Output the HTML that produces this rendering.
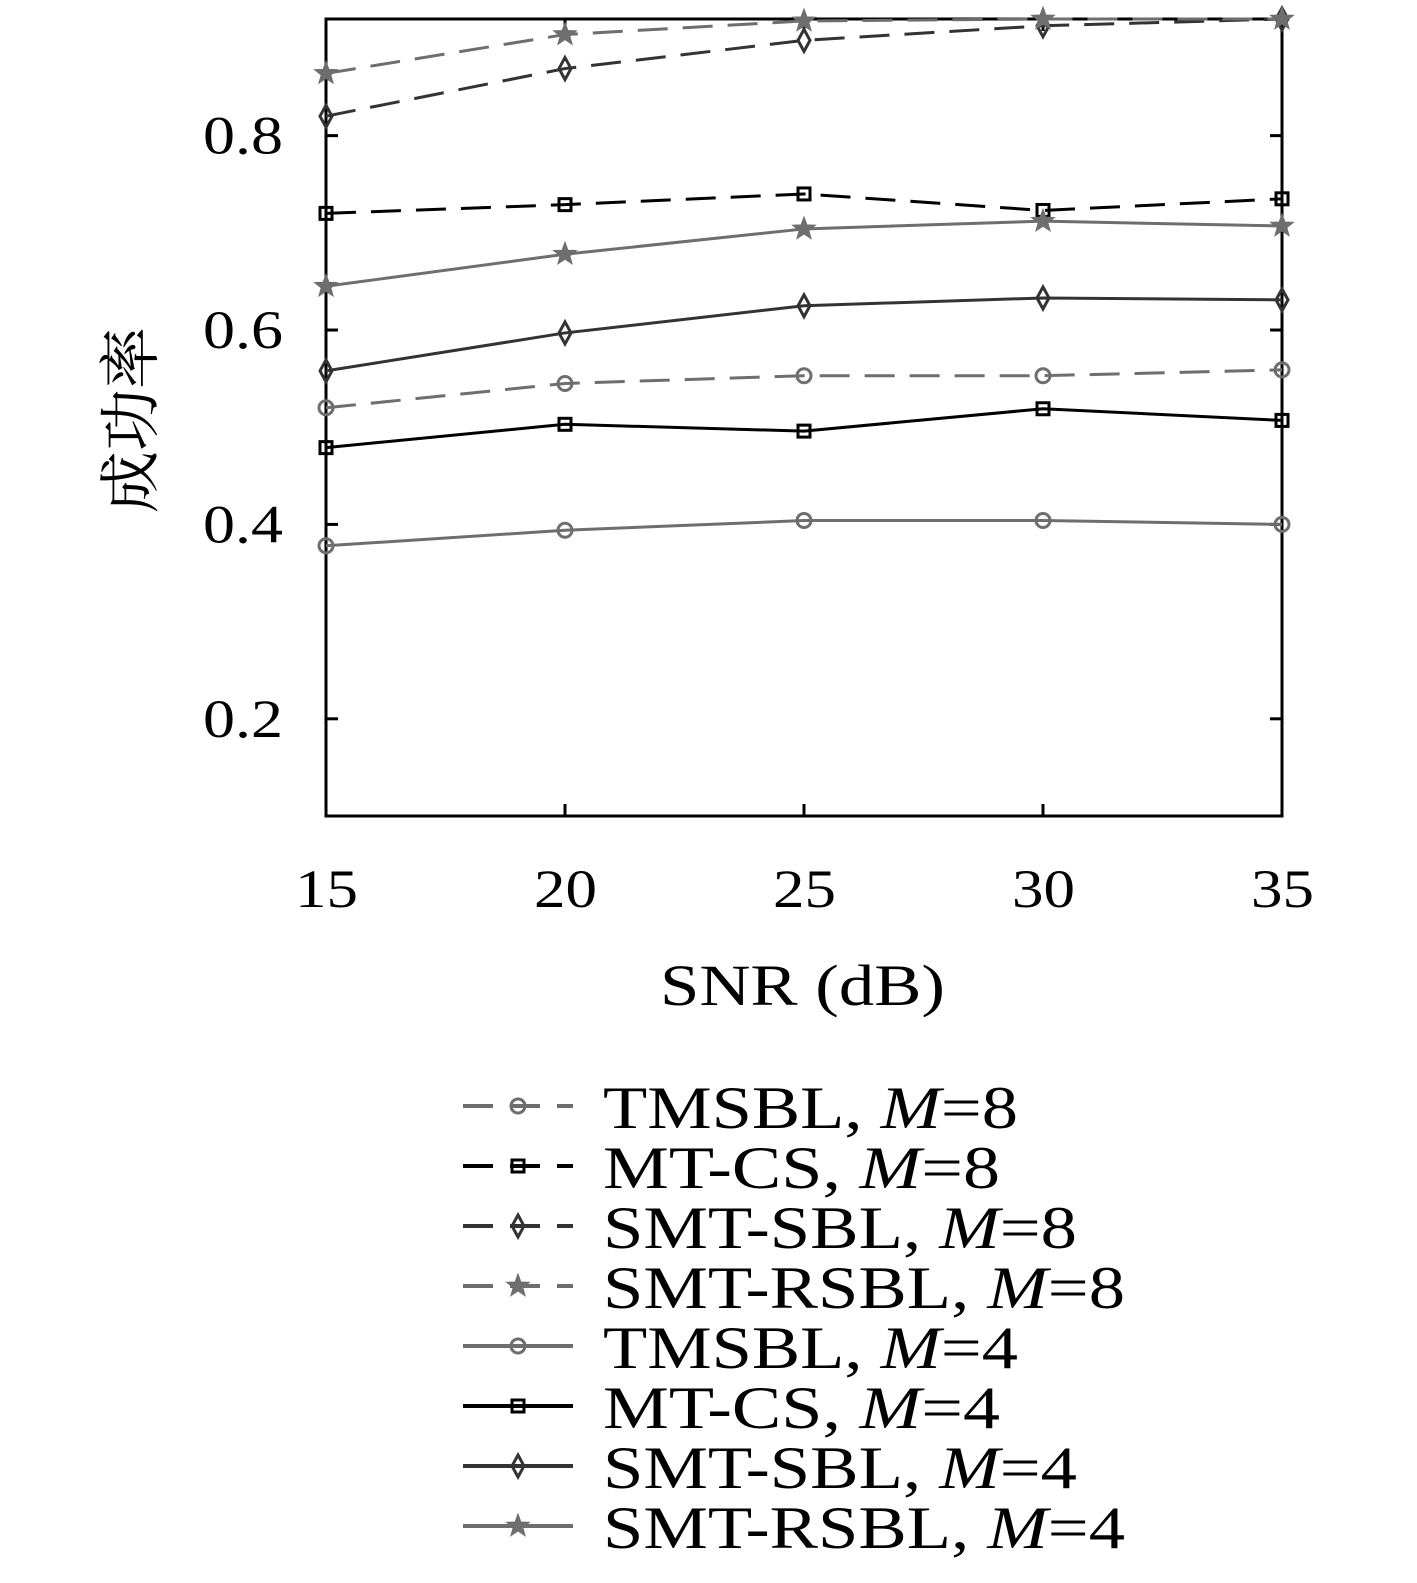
<!DOCTYPE html>
<html><head><meta charset="utf-8"><style>
body{margin:0;background:#fff}
svg{display:block}
text{font-family:"Liberation Serif","Noto Serif CJK SC",serif}
</style></head><body>
<svg id="chart" width="1417" height="1583" viewBox="0 0 1417 1583" xmlns="http://www.w3.org/2000/svg"></svg>
<script>
const snr = [15, 20, 25, 30, 35];
const xTicks = [15, 20, 25, 30, 35];
const yTicks = [0.2, 0.4, 0.6, 0.8];
const tmsbl8 = [0.52, 0.545, 0.553, 0.553, 0.559];
const mtcs8 = [0.72, 0.729, 0.740, 0.723, 0.735];
const smtsbl8 = [0.820, 0.869, 0.898, 0.913, 0.92];
const smtrsbl8 = [0.864, 0.904, 0.918, 0.92, 0.92];
const tmsbl4 = [0.378, 0.394, 0.404, 0.404, 0.40];
const mtcs4 = [0.479, 0.503, 0.496, 0.519, 0.507];
const smtsbl4 = [0.558, 0.597, 0.625, 0.633, 0.631];
const smtrsbl4 = [0.645, 0.678, 0.704, 0.712, 0.707];
const seriesNames = ["TMSBL","MT-CS","SMT-SBL","SMT-RSBL","TMSBL","MT-CS","SMT-SBL","SMT-RSBL"];
const seriesM = ["8","8","8","8","4","4","4","4"];

const NS="http://www.w3.org/2000/svg";
const svg=document.getElementById('chart');
const L=326,R=1282,T=19,B=816,xmin=15,xmax=35,ymin=0.1,ymax=0.92;
const xs=v=>L+(v-xmin)/(xmax-xmin)*(R-L);
const ys=v=>B-(v-ymin)/(ymax-ymin)*(B-T);
function mk(tag,attrs,parent){const e=document.createElementNS(NS,tag);for(const k in attrs)e.setAttribute(k,attrs[k]);(parent||svg).appendChild(e);return e;}

const series=[
 {d:tmsbl8,c:'#6e6e6e',dash:true,m:'circle'},
 {d:mtcs8,c:'#000',dash:true,m:'square'},
 {d:smtsbl8,c:'#333',dash:true,m:'diamond'},
 {d:smtrsbl8,c:'#6e6e6e',dash:true,m:'star'},
 {d:tmsbl4,c:'#6e6e6e',dash:false,m:'circle'},
 {d:mtcs4,c:'#000',dash:false,m:'square'},
 {d:smtsbl4,c:'#333',dash:false,m:'diamond'},
 {d:smtrsbl4,c:'#6e6e6e',dash:false,m:'star'}];

function marker(g,type,x,y,c){
 let e;
 if(type==='circle')e=mk('circle',{cx:x,cy:y,r:7,fill:'none',stroke:c,'stroke-width':3},g);
 else if(type==='square')e=mk('rect',{x:x-6,y:y-6,width:12,height:12,fill:'none',stroke:c,'stroke-width':3},g);
 else if(type==='diamond')e=mk('polygon',{points:`${x},${y-11} ${x+6},${y} ${x},${y+11} ${x-6},${y}`,fill:'none',stroke:c,'stroke-width':3},g);
 else{let p=[];for(let i=0;i<10;i++){const r=i%2?5:12,a=-Math.PI/2+i*Math.PI/5;p.push((x+r*Math.cos(a)).toFixed(1)+','+(y+r*Math.sin(a)).toFixed(1));}
  e=mk('polygon',{points:p.join(' '),fill:c,stroke:c,'stroke-width':1},g);}
 
 
}

const box=mk('rect',{x:L,y:T,width:R-L,height:B-T,fill:'none',stroke:'#000','stroke-width':3});


xTicks.forEach(t=>{
 mk('line',{x1:xs(t),x2:xs(t),y1:B,y2:B-12,stroke:'#000','stroke-width':3});
 mk('line',{x1:xs(t),x2:xs(t),y1:T,y2:T+12,stroke:'#000','stroke-width':3});
 const tx=mk('text',{x:xs(t)-31,y:907,'font-size':54,textLength:63,lengthAdjust:'spacingAndGlyphs'});tx.textContent=t;
 
 
});
yTicks.forEach(t=>{
 mk('line',{x1:L,x2:L+12,y1:ys(t),y2:ys(t),stroke:'#000','stroke-width':3});
 mk('line',{x1:R,x2:R-12,y1:ys(t),y2:ys(t),stroke:'#000','stroke-width':3});
 const tx=mk('text',{x:203,y:ys(t)+18,'font-size':54,textLength:80,lengthAdjust:'spacingAndGlyphs'});tx.textContent=t.toFixed(1);
 
 
});
const xt=mk('text',{x:660,y:1005,'font-size':58,textLength:285,lengthAdjust:'spacingAndGlyphs'});xt.textContent='SNR (dB)';


const yt=mk('text',{x:0,y:0,'font-size':62,'text-anchor':'middle',transform:'translate(152,420) rotate(-90)'});yt.textContent='成功率';



const legendEnds=[1018,1000,1077,1125,1018,1000,1077,1125];
series.forEach((s,i)=>{
 const g=mk('g',{});
 
 
 const pts=s.d.map((v,j)=>xs(snr[j])+','+ys(v)).join(' ');
 const pl=mk('polyline',{points:pts,fill:'none',stroke:s.c,'stroke-width':3,'stroke-dasharray':s.dash?'30 15':'none'},g);
 
 
 s.d.forEach((v,j)=>marker(g,s.m,xs(snr[j]),ys(v),s.c));
 const lg=mk('g',{});
 
 
 const ly=1106+i*60;
 mk('line',{x1:463,x2:573,y1:ly,y2:ly,stroke:s.c,'stroke-width':4,'stroke-dasharray':s.dash?'30 17':'none'},lg);
 marker(lg,s.m,518,ly,s.c);
 const t=mk('text',{x:603,y:ly+22,'font-size':60,textLength:legendEnds[i]-603,lengthAdjust:'spacingAndGlyphs'},lg);
 t.appendChild(document.createTextNode(seriesNames[i]+', '));
 const ts=mk('tspan',{'font-style':'italic'},t);ts.textContent='M';
 t.appendChild(document.createTextNode('='+seriesM[i]));
});
</script>
</body></html>
